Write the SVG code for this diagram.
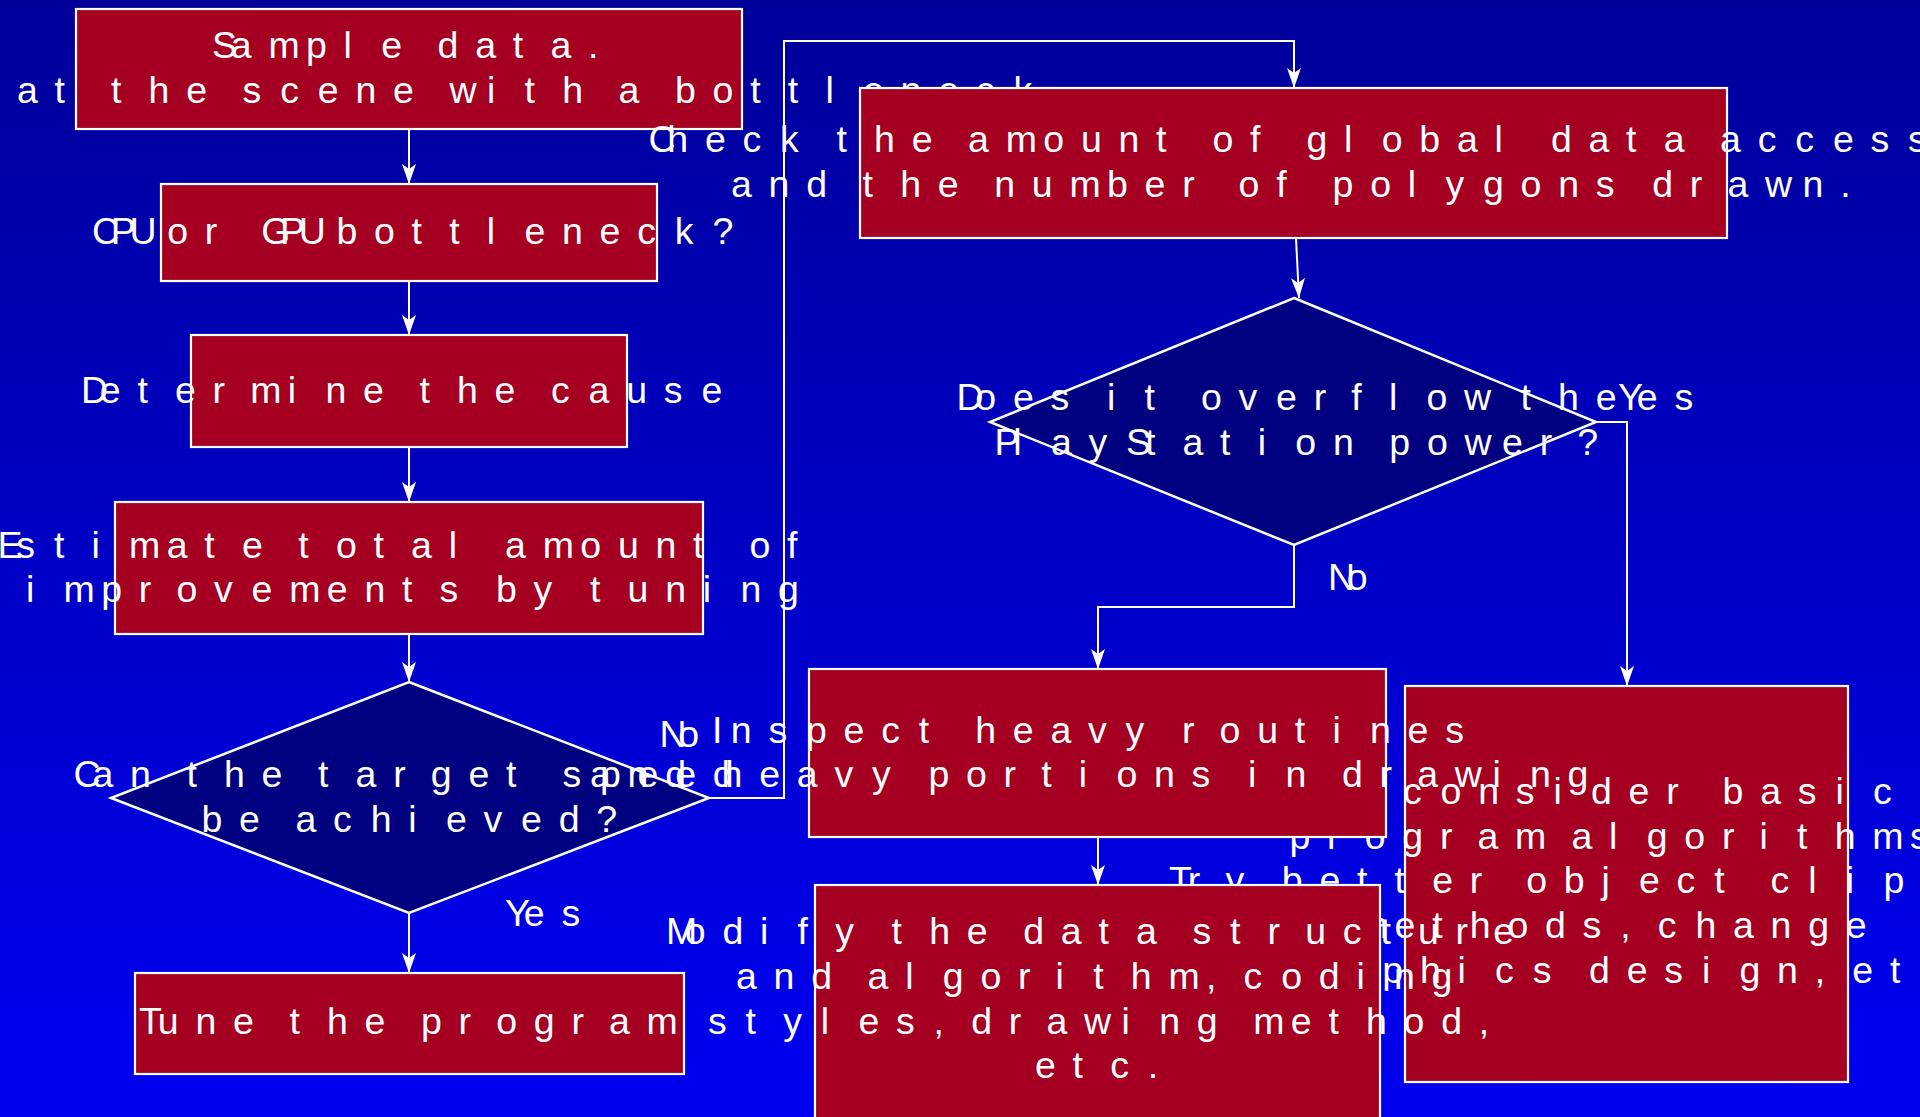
<svg xmlns="http://www.w3.org/2000/svg" width="1920" height="1117" viewBox="0 0 1920 1117">
<defs>
<linearGradient id="bg" x1="0" y1="0" x2="0" y2="1"><stop offset="0" stop-color="#000099"/><stop offset="1" stop-color="#0000F2"/></linearGradient>
<marker id="arr" markerUnits="userSpaceOnUse" markerWidth="20" markerHeight="14" viewBox="0 0 20 14" refX="20" refY="7" orient="auto"><path d="M0,0 L20,7 L0,14 L5,7 Z" fill="#fff"/></marker>
<style>
.box{fill:#A50021;stroke:#fff;stroke-width:2.2}
.dia{fill:#000080;stroke:#fff;stroke-width:2.5}
.t{font-family:"Liberation Sans",Arial,sans-serif;font-size:37.5px;fill:#fff}
.edge{fill:none;stroke:#fff;stroke-width:2;marker-end:url(#arr)}
</style>
</defs>
<rect x="0" y="0" width="1920" height="1117" fill="url(#bg)"/>
<g id="connectors">
<path class="edge" d="M409,129 V184"/>
<path class="edge" d="M409,281 V335"/>
<path class="edge" d="M409,447 V502"/>
<path class="edge" d="M409,634 V682"/>
<path class="edge" d="M409,913 V973"/>
<path class="edge" d="M709,798 H784 V41 H1294 V88"/>
<path class="edge" d="M1296,238 L1299,298"/>
<path class="edge" d="M1596,422 H1627 V686"/>
<path class="edge" d="M1294,545 V607 H1098 V669"/>
<path class="edge" d="M1098,837 V885"/>
<text class="t" y="747" x="659.5 678.3">No</text>
<text class="t" y="926" x="505 523.8 561.4">Yes</text>
<text class="t" y="410" x="1618 1636.8 1674.4">Yes</text>
<text class="t" y="590" x="1328 1346.8">No</text>
</g>
<g id="n11">
<rect class="box" x="1405" y="686" width="443" height="396"/>
<text class="t" y="804" x="1403 1440.6 1478.2 1515.8 1553.4 1591 1628.6 1666.2 1703.8 1722.6 1760.2 1797.8 1835.4 1873">consider basic</text>
<text class="t" y="849" x="1289.5 1327.1 1364.7 1402.3 1439.9 1477.5 1515.1 1552.7 1571.5 1609.1 1646.7 1684.3 1721.9 1759.5 1797.1 1834.7 1872.3 1909.9">program algorithms</text>
<text class="t" y="893" x="1169 1187.8 1225.4 1263 1281.8 1319.4 1357 1394.6 1432.2 1469.8 1507.4 1526.2 1563.8 1601.4 1639 1676.6 1714.2 1751.8 1770.6 1808.2 1845.8 1883.4 1921 1958.6 1996.2 2033.8">Try better object clipping</text>
<text class="t" y="938" x="1357 1394.6 1432.2 1469.8 1507.4 1545 1582.6 1620.2 1639 1657.8 1695.4 1733 1770.6 1808.2 1845.8">methods, change</text>
<text class="t" y="983" x="1269.5 1307.1 1344.7 1382.3 1419.9 1457.5 1495.1 1532.7 1570.3 1589.1 1626.7 1664.3 1701.9 1739.5 1777.1 1814.7 1833.5 1852.3 1889.9 1927.5 1946.3">graphics design, etc.</text>
</g>
<g id="n1">
<rect class="box" x="76" y="9" width="666" height="120"/>
<text class="t" y="58" x="212 230.8 268.4 306 343.6 381.2 418.8 437.6 475.2 512.8 550.4 588">Sample data.</text>
<text class="t" y="102.5" x="17 54.6 92.2 111 148.6 186.2 223.8 242.6 280.2 317.8 355.4 393 430.6 449.4 487 524.6 562.2 599.8 618.6 656.2 675 712.6 750.2 787.8 825.4 863 900.6 938.2 975.8 1013.4">at the scene with a bottleneck</text>
</g>
<g id="n2">
<rect class="box" x="161" y="184" width="496" height="97"/>
<text class="t" y="244" x="92 110.8 129.6 148.4 167.2 204.8 242.4 261.2 280 298.8 317.6 336.4 374 411.6 449.2 486.8 524.4 562 599.6 637.2 674.8 712.4">CPU or GPU bottleneck?</text>
</g>
<g id="n3">
<rect class="box" x="191" y="335" width="436" height="112"/>
<text class="t" y="403" x="81 99.8 137.4 175 212.6 250.2 287.8 325.4 363 400.6 419.4 457 494.6 532.2 551 588.6 626.2 663.8 701.4">Determine the cause</text>
</g>
<g id="n4">
<rect class="box" x="115" y="502" width="588" height="132"/>
<text class="t" y="558" x="-2.5 16.3 53.9 91.5 129.1 166.7 204.3 241.9 279.5 298.3 335.9 373.5 411.1 448.7 486.3 505.1 542.7 580.3 617.9 655.5 693.1 730.7 749.5 787.1">Estimate total amount of</text>
<text class="t" y="602" x="26 63.6 101.2 138.8 176.4 214 251.6 289.2 326.8 364.4 402 439.6 477.2 496 533.6 571.2 590 627.6 665.2 702.8 740.4 778">improvements by tuning</text>
</g>
<g id="d1">
<polygon class="dia" points="409,682 709,798 409,913 111,798"/>
<text class="t" y="787" x="73.6 92.4 130 167.6 186.4 224 261.6 299.2 318 355.6 393.2 430.8 468.4 506 543.6 562.4 600 637.6 675.2 712.8">Can the target speed</text>
<text class="t" y="832" x="201.5 239.1 276.7 295.5 333.1 370.7 408.3 445.9 483.5 521.1 558.7 596.3">be achieved?</text>
</g>
<g id="n6">
<rect class="box" x="135" y="973" width="549" height="101"/>
<text class="t" y="1034" x="139 157.8 195.4 233 270.6 289.4 327 364.6 402.2 421 458.6 496.2 533.8 571.4 609 646.6">Tune the program</text>
</g>
<g id="n7">
<rect class="box" x="860" y="88" width="867" height="150"/>
<text class="t" y="151.5" x="648.5 667.3 704.9 742.5 780.1 817.7 836.5 874.1 911.7 949.3 968.1 1005.7 1043.3 1080.9 1118.5 1156.1 1193.7 1212.5 1250.1 1287.7 1306.5 1344.1 1381.7 1419.3 1456.9 1494.5 1532.1 1550.9 1588.5 1626.1 1663.7 1701.3 1720.1 1757.7 1795.3 1832.9 1870.5 1908.1">Check the amount of global data access</text>
<text class="t" y="196.7" x="731 768.6 806.2 843.8 862.6 900.2 937.8 975.4 994.2 1031.8 1069.4 1107 1144.6 1182.2 1219.8 1238.6 1276.2 1313.8 1332.6 1370.2 1407.8 1445.4 1483 1520.6 1558.2 1595.8 1633.4 1652.2 1689.8 1727.4 1765 1802.6 1840.2">and the number of polygons drawn.</text>
</g>
<g id="d2">
<polygon class="dia" points="1294,298 1596,422 1294,545 990,422"/>
<text class="t" y="410" x="956.5 975.3 1012.9 1050.5 1088.1 1106.9 1144.5 1182.1 1200.9 1238.5 1276.1 1313.7 1351.3 1388.9 1426.5 1464.1 1501.7 1520.5 1558.1 1595.7">Does it overflow the</text>
<text class="t" y="455" x="994.5 1013.3 1050.9 1088.5 1126.1 1144.9 1182.5 1220.1 1257.7 1295.3 1332.9 1370.5 1389.3 1426.9 1464.5 1502.1 1539.7 1577.3">PlayStation power?</text>
</g>
<g id="n9">
<rect class="box" x="809" y="669" width="577" height="168"/>
<text class="t" y="743" x="712 730.8 768.4 806 843.6 881.2 918.8 956.4 975.2 1012.8 1050.4 1088 1125.6 1163.2 1182 1219.6 1257.2 1294.8 1332.4 1370 1407.6 1445.2">Inspect heavy routines</text>
<text class="t" y="787" x="590 627.6 665.2 702.8 721.6 759.2 796.8 834.4 872 909.6 928.4 966 1003.6 1041.2 1078.8 1116.4 1154 1191.6 1229.2 1248 1285.6 1323.2 1342 1379.6 1417.2 1454.8 1492.4 1530 1567.6">and heavy portions in drawing</text>
</g>
<g id="n10">
<rect class="box" x="815" y="885" width="565" height="240"/>
<text class="t" y="944" x="666 684.8 722.4 760 797.6 835.2 872.8 891.6 929.2 966.8 1004.4 1023.2 1060.8 1098.4 1136 1173.6 1192.4 1230 1267.6 1305.2 1342.8 1380.4 1418 1455.6 1493.2">Modify the data structure</text>
<text class="t" y="988.5" x="736 773.6 811.2 848.8 867.6 905.2 942.8 980.4 1018 1055.6 1093.2 1130.8 1168.4 1206 1224.8 1243.6 1281.2 1318.8 1356.4 1394 1431.6">and algorithm, coding</text>
<text class="t" y="1033.5" x="708 745.6 783.2 820.8 858.4 896 933.6 952.4 971.2 1008.8 1046.4 1084 1121.6 1159.2 1196.8 1234.4 1253.2 1290.8 1328.4 1366 1403.6 1441.2 1478.8">styles, drawing method,</text>
<text class="t" y="1078" x="1035 1072.6 1110.2 1147.8">etc.</text>
</g>
</svg>
